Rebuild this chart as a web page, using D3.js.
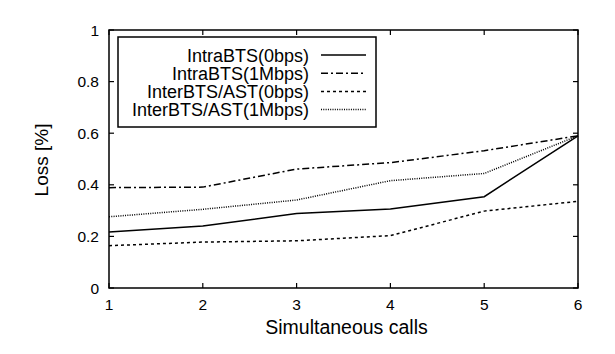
<!DOCTYPE html>
<html>
<head>
<meta charset="utf-8">
<script src="https://cdn.jsdelivr.net/npm/d3@7"></script>
<style>
  body { margin: 0; background: #fff; }
  text { font-family: "Liberation Sans", Arial, sans-serif; fill: #000; }
</style>
</head>
<body>
<div id="container"></div>
<script>
/* DATA */
const calls = [1, 2, 3, 4, 5, 6];
const intraBts0 = [0.217, 0.240, 0.289, 0.306, 0.354, 0.590];
const intraBts1M = [0.389, 0.391, 0.461, 0.486, 0.532, 0.590];
const interBts0 = [0.164, 0.178, 0.183, 0.203, 0.298, 0.336];
const interBts1M = [0.276, 0.305, 0.341, 0.416, 0.444, 0.590];
const yTicks = [0, 0.2, 0.4, 0.6, 0.8, 1];

const series = [
  {name: "IntraBTS(0bps)", values: intraBts0, dash: null},
  {name: "IntraBTS(1Mbps)", values: intraBts1M, dash: "7,3,2,3"},
  {name: "InterBTS/AST(0bps)", values: interBts0, dash: "3,3"},
  {name: "InterBTS/AST(1Mbps)", values: interBts1M, dash: "1,1.3"}
];

/* CONSTANTS */
const width = 615, height = 354;
const plotLeft = 109, plotRight = 578, plotTop = 30, plotBottom = 288;

const svg = d3.select("#container")
  .append("svg")
  .attr("width", width)
  .attr("height", height);

/* SCALES */
const xScale = d3.scaleLinear().domain([1, 6]).range([plotLeft, plotRight]);
const yScale = d3.scaleLinear().domain([0, 1]).range([plotBottom, plotTop]);

// ticks, mirrored and pointing inward
const tickLen = 5;
calls.forEach(c => {
  svg.append("line").attr("x1", xScale(c)).attr("x2", xScale(c))
    .attr("y1", plotBottom).attr("y2", plotBottom - tickLen).attr("stroke", "#000").attr("stroke-width", 1.2);
  svg.append("line").attr("x1", xScale(c)).attr("x2", xScale(c))
    .attr("y1", plotTop).attr("y2", plotTop + tickLen).attr("stroke", "#000").attr("stroke-width", 1.2);
  svg.append("text")
    .attr("x", xScale(c))
    .attr("y", 310)
    .attr("text-anchor", "middle")
    .style("font-size", "15.5px")
    .text(c);
});

yTicks.forEach(t => {
  svg.append("line").attr("x1", plotLeft).attr("x2", plotLeft + tickLen)
    .attr("y1", yScale(t)).attr("y2", yScale(t)).attr("stroke", "#000").attr("stroke-width", 1.2);
  svg.append("line").attr("x1", plotRight).attr("x2", plotRight - tickLen)
    .attr("y1", yScale(t)).attr("y2", yScale(t)).attr("stroke", "#000").attr("stroke-width", 1.2);
  svg.append("text")
    .attr("x", 99)
    .attr("y", yScale(t) + 5.5)
    .attr("text-anchor", "end")
    .style("font-size", "15.5px")
    .text(t);
});

// frame
svg.append("rect")
  .attr("x", plotLeft).attr("y", plotTop)
  .attr("width", plotRight - plotLeft).attr("height", plotBottom - plotTop)
  .attr("fill", "none").attr("stroke", "#000").attr("stroke-width", 1.5);

// axis labels
svg.append("text")
  .attr("x", (plotLeft + plotRight) / 2 + 3)
  .attr("y", 334)
  .attr("text-anchor", "middle")
  .style("font-size", "19.5px")
  .text("Simultaneous calls");

svg.append("text")
  .attr("transform", "translate(48,160) rotate(-90)")
  .attr("text-anchor", "middle")
  .style("font-size", "19px")
  .text("Loss [%]");

/* LINES */
const line = d3.line()
  .x((d, i) => xScale(calls[i]))
  .y(d => yScale(d));

series.forEach(s => {
  svg.append("path")
    .datum(s.values)
    .attr("d", line)
    .attr("fill", "none")
    .attr("stroke", "#000")
    .attr("stroke-width", 1.5)
    .attr("stroke-dasharray", s.dash);
});

/* LEGEND */
svg.append("rect")
  .attr("x", 118).attr("y", 37)
  .attr("width", 258).attr("height", 90)
  .attr("fill", "#fff").attr("stroke", "#000").attr("stroke-width", 1.5);

series.forEach((s, i) => {
  const y = 55 + i * 18.2;
  svg.append("line")
    .attr("x1", 321).attr("x2", 366)
    .attr("y1", y).attr("y2", y)
    .attr("stroke", "#000")
    .attr("stroke-width", 1.5)
    .attr("stroke-dasharray", s.dash);
  svg.append("text")
    .attr("x", 309)
    .attr("y", y + 6.5)
    .attr("text-anchor", "end")
    .style("font-size", "18px")
    .text(s.name);
});
</script>
</body>
</html>
